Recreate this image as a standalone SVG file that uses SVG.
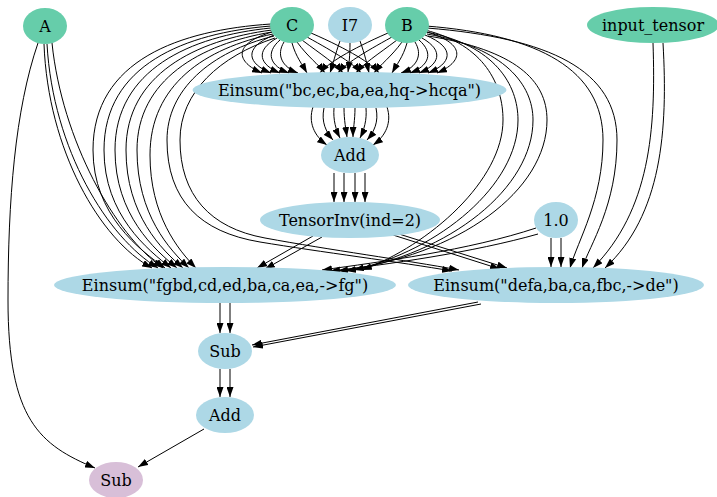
<svg xmlns="http://www.w3.org/2000/svg" width="717" height="497" viewBox="0 0 717 497">
<defs>
<marker id="ah" markerWidth="10" markerHeight="7" refX="10" refY="3.5" orient="auto" markerUnits="userSpaceOnUse"><path d="M0,0 L10,3.5 L0,7 z" fill="#000"/></marker>
</defs>
<style>
.e{fill:none;stroke:#000;stroke-width:1;marker-end:url(#ah)}
.g{fill:#66cdaa}
.b{fill:#add8e6}
.t{fill:#d8bfd8}
text{font-family:"DejaVu Serif","Liberation Serif",serif;font-size:16px;fill:#000;text-anchor:middle;dominant-baseline:central}
</style>
<rect width="717" height="497" fill="#fff"/>
<g id="edges">
<path class="e" d="M272,32 C232,44 236,62 262,73"/>
<path class="e" d="M274,35 C242,48 248,64 271,73"/>
<path class="e" d="M277,38 C254,51 260,65 280,73"/>
<path class="e" d="M280,40 C265,53 270,66 289,73"/>
<path class="e" d="M284,42 C276,55 282,67 298,73"/>
<path class="e" d="M292,43 C296,57 302,64 307,73"/>
<path class="e" d="M297,42 C308,57 318,64 325,73"/>
<path class="e" d="M302,40 C322,55 336,64 343,73"/>
<path class="e" d="M307,37 C336,53 354,64 361,73"/>
<path class="e" d="M311,33 C350,50 372,64 379,73"/>
<path class="e" d="M427,32 C467,44 463,62 437,73"/>
<path class="e" d="M425,35 C457,48 451,64 428,73"/>
<path class="e" d="M422,38 C445,51 439,65 419,73"/>
<path class="e" d="M419,40 C434,53 429,66 410,73"/>
<path class="e" d="M415,42 C423,55 417,67 401,73"/>
<path class="e" d="M407,43 C403,57 397,64 392,73"/>
<path class="e" d="M402,42 C391,57 381,64 374,73"/>
<path class="e" d="M397,40 C377,55 363,64 356,73"/>
<path class="e" d="M392,37 C363,53 345,64 338,73"/>
<path class="e" d="M388,33 C349,50 327,64 320,73"/>
<path class="e" d="M340,41 C335,55 333,64 330,73"/>
<path class="e" d="M350,43 C350,55 349,64 348,72"/>
<path class="e" d="M360,41 C365,55 367,64 369,73"/>
<path class="e" d="M313,107 C308,122 314,136 327,145"/>
<path class="e" d="M324,108 C321,122 326,132 333,140"/>
<path class="e" d="M334,108 C333,120 336,130 340,138"/>
<path class="e" d="M344,108 C344,120 346,130 347,137"/>
<path class="e" d="M355,108 C355,120 353,130 353,137"/>
<path class="e" d="M366,108 C367,120 364,130 360,138"/>
<path class="e" d="M376,108 C379,122 374,132 367,140"/>
<path class="e" d="M387,107 C392,122 386,136 373,145"/>
<path class="e" d="M334,173 L334,202"/>
<path class="e" d="M344,173 L344,202"/>
<path class="e" d="M355,173 L355,202"/>
<path class="e" d="M365,173 L365,202"/>
<path class="e" d="M313,236 L257,268"/>
<path class="e" d="M322,237 L265,269"/>
<path class="e" d="M393,235 L500,269"/>
<path class="e" d="M399,234 L507,268"/>
<path class="e" d="M536,228 C470,250 380,262 322,270"/>
<path class="e" d="M538,234 C475,252 385,265 330,271"/>
<path class="e" d="M551,238 L551,267"/>
<path class="e" d="M561,238 L561,267"/>
<path class="e" d="M425,30 C485,45 503,85 503,120 C503,180 430,245 362,270"/>
<path class="e" d="M426,32 C495,45 518,85 518,120 C518,185 440,250 354,270"/>
<path class="e" d="M427,34 C505,48 533,85 533,120 C533,188 450,254 346,271"/>
<path class="e" d="M428,36 C515,50 547,80 547,120 C547,190 460,256 338,271"/>
<path class="e" d="M426,26 C540,35 603,70 603,140 C603,200 578,240 570,268"/>
<path class="e" d="M427,28 C550,38 617,70 617,140 C617,205 590,245 582,268"/>
<path class="e" d="M653,43 C656,130 650,210 593,268"/>
<path class="e" d="M663,43 C668,130 662,215 605,268"/>
<path class="e" d="M271,24 C180,30 93,60 93,150 C93,215 140,250 165,268"/>
<path class="e" d="M271,26 C185,33 104,65 104,150 C104,215 148,250 171,268"/>
<path class="e" d="M271,28 C190,36 115,70 115,150 C115,215 155,250 177,268"/>
<path class="e" d="M272,30 C195,40 126,75 126,150 C126,215 162,250 183,268"/>
<path class="e" d="M272,32 C200,44 137,80 137,150 C137,215 170,250 189,268"/>
<path class="e" d="M273,34 C205,48 150,85 150,155 C150,215 178,250 196,268"/>
<path class="e" d="M274,36 C210,52 167,90 167,140 C167,200 200,232 260,242 C320,252 400,262 452,271"/>
<path class="e" d="M275,38 C220,56 180,92 180,140 C180,195 210,228 265,238 C330,250 405,260 459,270"/>
<path class="e" d="M44,44 C48,150 100,240 152,268"/>
<path class="e" d="M47,44 C53,150 108,238 158,268"/>
<path class="e" d="M52,43 C62,140 115,235 163,268"/>
<path class="e" d="M38,43 C15,110 8,200 8,300 C8,420 40,445 95,468"/>
<path class="e" d="M204,429 L138,467"/>
<path class="e" d="M220,303 L220,333"/>
<path class="e" d="M230,303 L230,333"/>
<path class="e" d="M220,369 L220,397"/>
<path class="e" d="M230,369 L230,397"/>
<path class="e" d="M478,302 L252,345"/>
<path class="e" d="M481,304 L253,347"/>
</g>
<g id="A"><ellipse class="g" cx="45" cy="26" rx="22" ry="18"/><text x="45" y="26">A</text></g>
<g id="C"><ellipse class="g" cx="292" cy="25" rx="22" ry="18"/><text x="292" y="25">C</text></g>
<g id="I7"><ellipse class="b" cx="350" cy="25" rx="22" ry="18"/><text x="350" y="25">I7</text></g>
<g id="B"><ellipse class="g" cx="407" cy="25" rx="22" ry="18"/><text x="407" y="25">B</text></g>
<g id="input_tensor"><ellipse class="g" cx="653" cy="25" rx="66" ry="18"/><text x="653" y="25">input_tensor</text></g>
<g id="einsum1"><ellipse class="b" cx="349.5" cy="90" rx="157" ry="18"/><text x="349.5" y="90">Einsum("bc,ec,ba,ea,hq-&gt;hcqa")</text></g>
<g id="add1"><ellipse class="b" cx="350" cy="155" rx="29" ry="18"/><text x="350" y="155">Add</text></g>
<g id="tensorinv"><ellipse class="b" cx="350" cy="220" rx="90" ry="18"/><text x="350" y="220">TensorInv(ind=2)</text></g>
<g id="one"><ellipse class="b" cx="556" cy="220" rx="22" ry="18"/><text x="556" y="220">1.0</text></g>
<g id="einsum2"><ellipse class="b" cx="225" cy="285" rx="171" ry="18"/><text x="225" y="285">Einsum("fgbd,cd,ed,ba,ca,ea,-&gt;fg")</text></g>
<g id="einsum3"><ellipse class="b" cx="556" cy="285" rx="148" ry="18"/><text x="556" y="285">Einsum("defa,ba,ca,fbc,-&gt;de")</text></g>
<g id="sub1"><ellipse class="b" cx="225" cy="351" rx="27" ry="18"/><text x="225" y="351">Sub</text></g>
<g id="add2"><ellipse class="b" cx="225" cy="415" rx="29" ry="18"/><text x="225" y="415">Add</text></g>
<g id="sub2"><ellipse class="t" cx="116" cy="480" rx="27" ry="18"/><text x="116" y="480">Sub</text></g>
</svg>
